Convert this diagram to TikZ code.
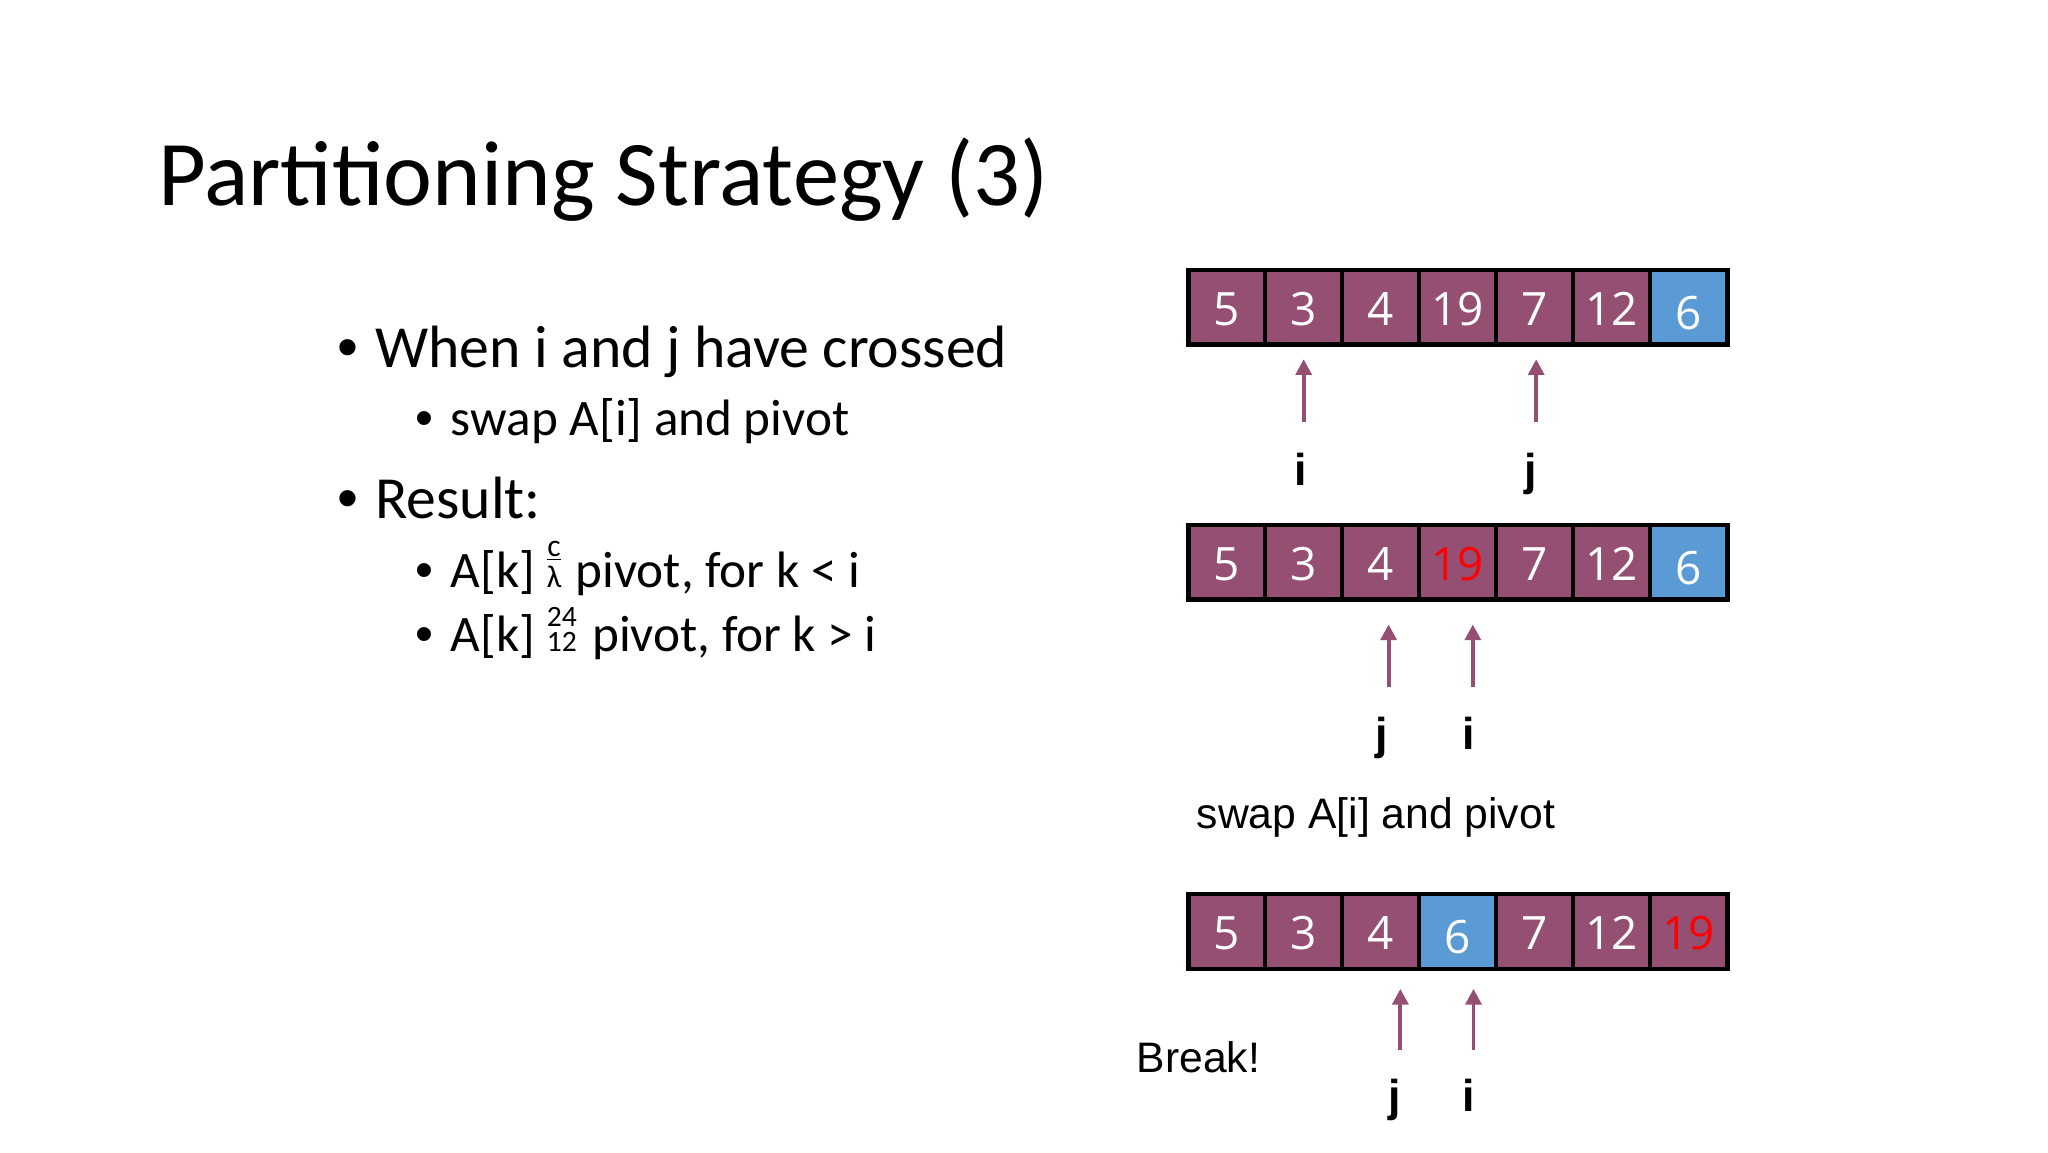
\documentclass[tikz,border=0pt]{standalone}
\usepackage{fontspec}
\setmainfont{Carlito}
\newfontfamily\cellfont{Open Sans}
\newfontfamily\arialfont{Liberation Sans}
\usetikzlibrary{arrows.meta}

\definecolor{cellpurple}{HTML}{954F72}
\definecolor{pivotblue}{HTML}{5B9BD5}
\definecolor{hotred}{HTML}{FF0000}

% stacked glyphs as the slide prints them
\newcommand{\ltmark}{{\fontsize{24}{24}\selectfont\shortstack{\underline{c}\\[2pt]λ}}\hspace{2pt}}
\newcommand{\gtmark}{{\fontsize{22.5}{22.5}\selectfont\shortstack{24\\[2pt]12}}\hspace{3pt}}

\tikzset{
  cell/.style={draw=black, line width=3.5pt, fill=cellpurple, minimum width=58.93pt,
    minimum height=57pt, inner sep=0pt, text=white,
    font=\cellfont\fontsize{35}{35}\selectfont, text height=27pt, text depth=0pt},
  pivotcell/.style={cell, fill=pivotblue, text height=34pt},
  redcell/.style={cell, text=hotred},
  ptr/.style={draw=cellpurple, line width=3pt, -{Triangle[width=12pt,length=12pt]}},
  ptrlabel/.style={anchor=base, inner sep=0pt, font=\arialfont\bfseries\fontsize{34}{34}\selectfont},
  bulletone/.style={anchor=base west, inner sep=0pt, font=\arialfont\fontsize{45.5}{45.5}\selectfont},
  bullettwo/.style={anchor=base west, inner sep=0pt, font=\arialfont\fontsize{39}{39}\selectfont},
  lvlone/.style={anchor=base west, inner sep=0pt, font=\fontsize{45.5}{45.5}\selectfont},
  lvltwo/.style={anchor=base west, inner sep=0pt, font=\fontsize{39}{39}\selectfont},
  note/.style={anchor=base west, inner sep=0pt, font=\arialfont\fontsize{32.5}{32.5}\selectfont},
}

\begin{document}
\begin{tikzpicture}[x=0.995pt, y=-0.995pt]
    % Slide area
    \fill[white] (0,0) rectangle (1567.8,881.9);
    \useasboundingbox (0,0) rectangle (1567.8,881.9);

    % Title
    \node[anchor=base west, inner sep=0pt, font=\fontsize{70.5}{70.5}\selectfont] (title) at (121,157) {Partitioning Strategy (3)};

    % Bullet list
    \node[bulletone] (dot1) at (258,281) {•};
    \node[lvlone] (crossed) at (287,281) {When i and j have crossed};
    \node[bullettwo] (dot2) at (318,333) {•};
    \node[lvltwo] (swapitem) at (345,333) {swap A[i] and pivot};
    \node[bulletone] (dot3) at (258,397) {•};
    \node[lvlone] (result) at (287,397) {Result:};
    \node[bullettwo] (dot4) at (318,450) {•};
    \node[lvltwo] (lowpart) at (345,450) {A[k] \ltmark{} pivot, for k < i};
    \node[bullettwo] (dot5) at (318,499) {•};
    \node[lvltwo] (highpart) at (345,499) {A[k] \gtmark{} pivot, for k > i};

    % Array before the crossing
    \foreach \v/\s [count=\k] in {5/cell,3/cell,4/cell,19/cell,7/cell,12/cell,6/pivotcell}
        \node[\s] (a\k) at ({909.75+(\k-0.5)*58.93},235.25) {\v};

    % Pointers i and j
    \coordinate (ia0) at (998,323);  \coordinate (ia1) at (998,275);
    \coordinate (ja0) at (1176,323); \coordinate (ja1) at (1176,275);
    \draw[ptr] (ia0) -- (ia1);
    \draw[ptr] (ja0) -- (ja1);
    \node[ptrlabel] (ilabA) at (996,372) {i};
    \node[ptrlabel] (jlabA) at (1172,372) {j};

    % Array after i and j have crossed
    \foreach \v/\s [count=\k] in {5/cell,3/cell,4/cell,19/redcell,7/cell,12/cell,6/pivotcell}
        \node[\s] (b\k) at ({909.75+(\k-0.5)*58.93},430.5) {\v};

    \coordinate (jb0) at (1063,526);   \coordinate (jb1) at (1063,478);
    \coordinate (ib0) at (1127.5,526); \coordinate (ib1) at (1127.5,478);
    \draw[ptr] (jb0) -- (jb1);
    \draw[ptr] (ib0) -- (ib1);
    \node[ptrlabel] (jlabB) at (1058,574) {j};
    \node[ptrlabel] (ilabB) at (1124,574) {i};

    \node[note] (swapnote) at (916,634) {swap A[i] and pivot};

    % Array after the swap
    \foreach \v/\s [count=\k] in {5/cell,3/cell,4/cell,6/pivotcell,7/cell,12/cell,19/redcell}
        \node[\s] (c\k) at ({909.75+(\k-0.5)*58.93},713) {\v};

    \coordinate (jc0) at (1072,804); \coordinate (jc1) at (1072,757);
    \coordinate (ic0) at (1128,804); \coordinate (ic1) at (1128,757);
    \draw[ptr] (jc0) -- (jc1);
    \draw[ptr] (ic0) -- (ic1);
    \node[note] (breaknote) at (870,821) {Break!};
    \node[ptrlabel] (jlabC) at (1068,851) {j};
    \node[ptrlabel] (ilabC) at (1124,851) {i};

\end{tikzpicture}
\end{document}
